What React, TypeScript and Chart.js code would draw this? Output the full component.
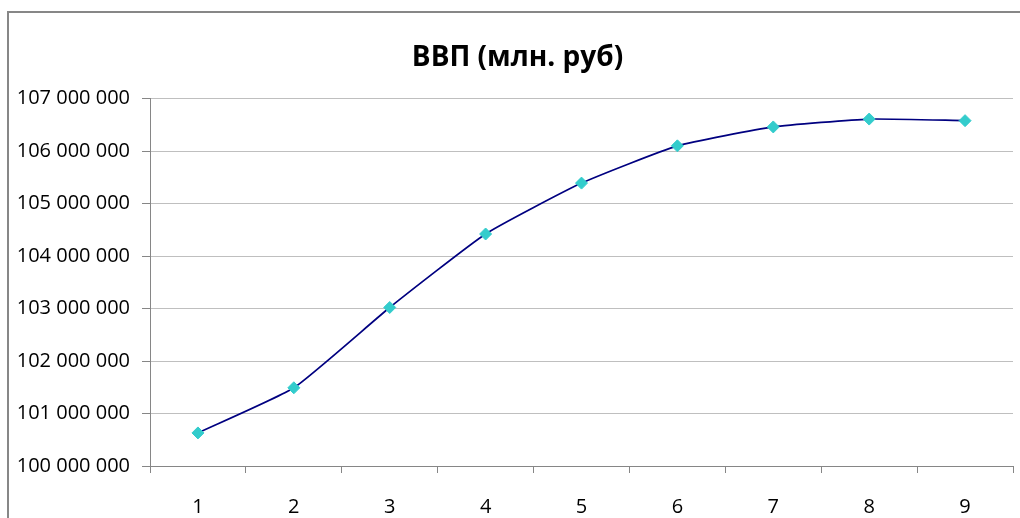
import React, { useEffect, useRef } from "react";
import { Chart, registerables } from "chart.js";

Chart.register(...registerables);

const categories: string[] = ["1", "2", "3", "4", "5", "6", "7", "8", "9"];
const gdpValues: number[] = [
  100630000, 101490000, 103020000, 104420000, 105390000, 106100000, 106460000,
  106610000, 106580000,
];
const yMin = 100000000;
const yMax = 107000000;
const yStep = 1000000;
const titleText = "ВВП (млн. руб)";

const fmt = (v: number) =>
  String(Math.round(v)).replace(/\B(?=(\d{3})+(?!\d))/g, " ");

export default function App() {
  const ref = useRef<HTMLCanvasElement | null>(null);

  useEffect(() => {
    if (!ref.current) return;
    const font = "'Open Sans', sans-serif";
    const chart = new Chart(ref.current, {
      type: "line",
      data: {
        labels: categories,
        datasets: [
          {
            data: gdpValues,
            borderColor: "#000080",
            borderWidth: 1.7,
            tension: 0.15,
            pointStyle: "rectRot",
            pointRadius: 6,
            pointBackgroundColor: "#33CCCC",
            pointBorderColor: "#33CCCC",
            pointBorderWidth: 1,
            fill: false,
          },
        ],
      },
      options: {
        responsive: false,
        animation: false,
        layout: { padding: { left: 6, right: 0, top: 0, bottom: 0 } },
        plugins: {
          legend: { display: false },
          tooltip: { enabled: false },
          title: {
            display: true,
            text: titleText,
            color: "#000000",
            font: { family: font, size: 28, weight: "bold" },
            padding: { top: 28, bottom: 24 },
          },
        },
        scales: {
          x: {
            type: "category",
            offset: true,
            grid: {
              offset: true,
              drawOnChartArea: false,
              drawTicks: true,
              tickLength: 7,
              tickColor: "#868686",
            },
            border: { color: "#868686", width: 1 },
            ticks: {
              color: "#000000",
              font: { family: font, size: 20 },
              padding: 22,
              maxRotation: 0,
            },
            afterFit: (s: any) => {
              s.height = 52;
            },
          },
          y: {
            min: yMin,
            max: yMax,
            grid: {
              color: "#bfbfbf",
              tickLength: 8,
              tickColor: "#868686",
            },
            border: { color: "#868686", width: 1 },
            ticks: {
              stepSize: yStep,
              color: "#000000",
              font: { family: font, size: 20 },
              padding: 12,
              callback: (v: any) => fmt(Number(v)),
            },
            afterFit: (s: any) => {
              s.width = 135;
            },
          },
        },
      },
    });
    return () => chart.destroy();
  }, []);

  return (
    <div
      style={{
        position: "fixed",
        left: 7,
        top: 11,
        width: 1011,
        height: 505,
        overflow: "hidden",
        borderLeft: "2px solid #878787",
        borderTop: "2px solid #878787",
        background: "#ffffff",
      }}
    >
      <canvas
        ref={ref}
        width={1011}
        height={505}
        style={{ display: "block", width: 1011, height: 505 }}
      />
    </div>
  );
}
